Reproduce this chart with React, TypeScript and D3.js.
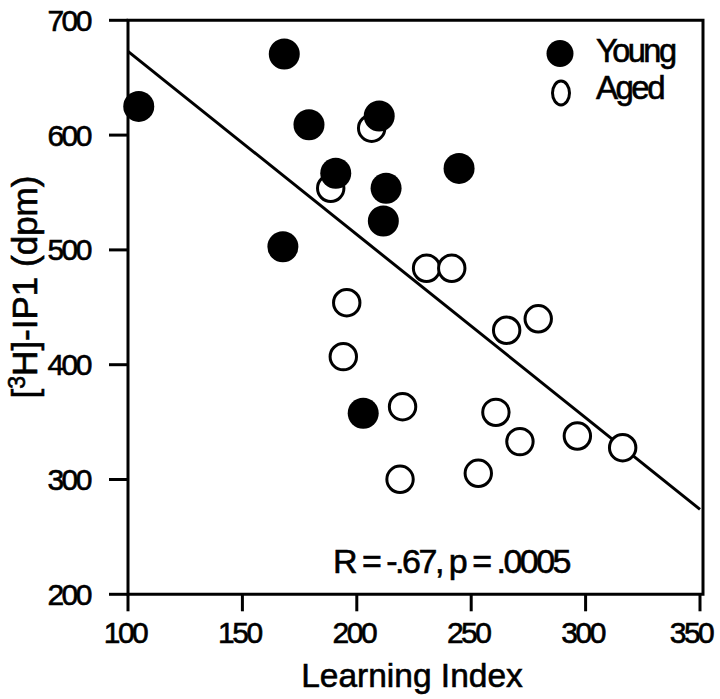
import React from "react";
import * as d3 from "d3";

const xTicks = [100, 150, 200, 250, 300, 350];
const yTicks = [200, 300, 400, 500, 600, 700];

const youngX = [104.7, 168.3, 179.1, 190.8, 167.7, 209.8, 244.7, 212.8, 211.6, 202.8];
const youngY = [625, 670.6, 609, 566.7, 502.8, 616.6, 571, 553.7, 525.2, 357.7];

const agedX = [188.6, 195.6, 194.1, 206.5, 230.5, 241.5, 265.5, 279.3, 220, 260.8, 271.3, 296.4, 316.2, 218.9, 253.1];
const agedY = [553.7, 454, 407, 606, 484, 484, 430, 440, 363.4, 358.5, 333, 337.9, 327.7, 300.2, 305.4];

const fitX = [100, 350];
const fitY = [673, 274];

const legendLabels = ["Young", "Aged"];
const statText = "R = -.67, p = .0005";
const xTitle = "Learning Index";

export default function App() {
  const W = 720;
  const H = 699;
  const x = d3.scaleLinear().domain([100, 350]).range([128, 700]);
  const y = d3.scaleLinear().domain([200, 700]).range([594.3, 20.3]);
  const font = "'Liberation Sans', Arial, Helvetica, sans-serif";
  const line = d3.line<number>().x((_, i) => x(fitX[i])).y((d) => y(d));
  const x0 = x(100);
  const x1 = 703;
  const y0 = y(200);
  const y1 = y(700);
  const bold = { stroke: "#000", strokeWidth: 0.6 };

  return (
    <svg width={W} height={H} style={{ position: "absolute", left: 0, top: 0, background: "#fff" }}>
      <rect x={0} y={0} width={W} height={H} fill="#fff" />
      {/* frame */}
      <path d={`M${x0},${y1} H${x1} V${y0} H${x0} Z`} fill="none" stroke="#000" strokeWidth={3} />
      {/* y ticks */}
      {yTicks.map((t) => (
        <g key={"y" + t}>
          <line x1={x0 - 19} x2={x0} y1={y(t)} y2={y(t)} stroke="#000" strokeWidth={3} />
          <text x={90} y={y(t) + 10.5} textAnchor="end" fontFamily={font} fontSize={30} letterSpacing={-2.5} fill="#000" {...bold}>
            {t}
          </text>
        </g>
      ))}
      {/* x ticks */}
      {xTicks.map((t) => (
        <g key={"x" + t}>
          <line x1={x(t)} x2={x(t)} y1={y0} y2={y0 + 17} stroke="#000" strokeWidth={3} />
          <text x={x(t) + (t === 350 ? -9 : -3)} y={643} textAnchor="middle" fontFamily={font} fontSize={30} letterSpacing={-2.5} fill="#000" {...bold}>
            {t}
          </text>
        </g>
      ))}
      {/* axis titles */}
      <text x={412} y={687} textAnchor="middle" fontFamily={font} fontSize={33.5} fill="#000" {...bold}>
        {xTitle}
      </text>
      <text transform={`translate(37,287) rotate(-90)`} textAnchor="middle" fontFamily={font} fontSize={35} fill="#000" {...bold}>
        [<tspan fontSize={23} dy={-12}>3</tspan>
        <tspan dy={12}>H]-IP1 (dpm)</tspan>
      </text>
      {/* regression line */}
      <path d={line(fitY) || ""} fill="none" stroke="#000" strokeWidth={3} />
      {/* aged */}
      {agedX.map((v, i) => (
        <circle key={"a" + i} cx={x(v)} cy={y(agedY[i])} r={13.2} fill="#fff" stroke="#000" strokeWidth={3} />
      ))}
      {/* young */}
      {youngX.map((v, i) => (
        <circle key={"yg" + i} cx={x(v)} cy={y(youngY[i])} r={15.5} fill="#000" />
      ))}
      {/* legend */}
      <circle cx={560} cy={53.5} r={13.5} fill="#000" />
      <ellipse cx={561} cy={93} rx={8.5} ry={12} fill="#fff" stroke="#000" strokeWidth={3} />
      <text x={596} y={62} fontFamily={font} fontSize={32.5} letterSpacing={-2.5} fill="#000" {...bold}>
        {legendLabels[0]}
      </text>
      <text x={596} y={99} fontFamily={font} fontSize={33} letterSpacing={-2.5} fill="#000" {...bold}>
        {legendLabels[1]}
      </text>
      {/* stats */}
      <text x={333} y={573} fontFamily={font} fontSize={34} letterSpacing={-2.5} fill="#000" {...bold}>
        {statText}
      </text>
    </svg>
  );
}
